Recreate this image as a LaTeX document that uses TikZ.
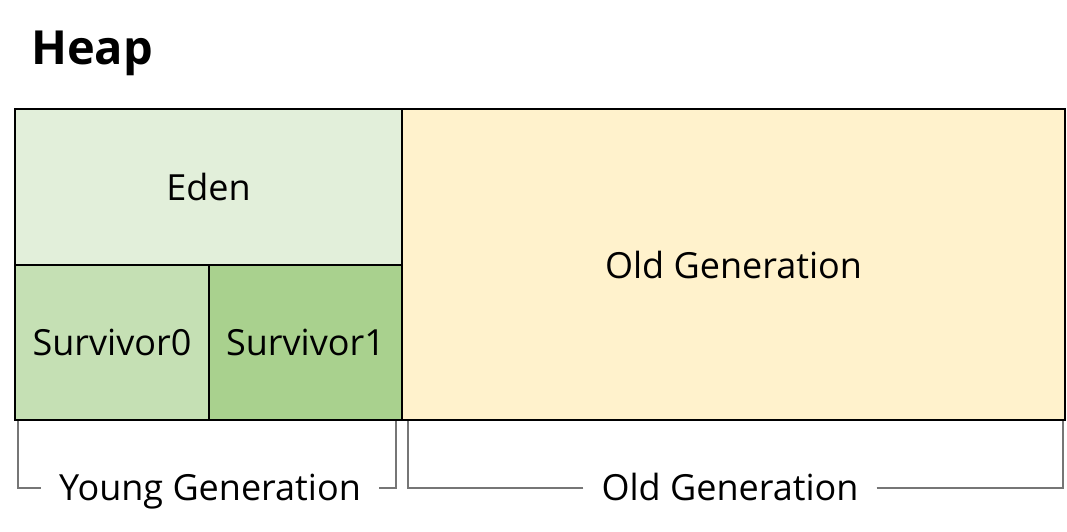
\documentclass[tikz,border=0pt]{standalone}
\usepackage{fontspec}
\setmainfont{Open Sans}
\usepackage{tikz}
\usetikzlibrary{positioning,calc}
\usepackage{xcolor}
\definecolor{edenfill}{HTML}{E2EFDA}
\definecolor{surv0fill}{HTML}{C5E0B4}
\definecolor{surv1fill}{HTML}{A9D18E}
\definecolor{oldfill}{HTML}{FFF2CC}
\definecolor{bracketgray}{HTML}{767676}

\begin{document}
\begin{tikzpicture}[
    x=1pt, y=-1pt,
    region/.style={draw, line width=2.1pt, rectangle, inner sep=0pt,
        font=\fontsize{36}{40}\selectfont},
    gen/.style={font=\fontsize{36}{40}\selectfont, anchor=base, inner xsep=18pt},
    bracket/.style={draw=bracketgray, line width=1.2pt},
]
\useasboundingbox (0,0) rectangle (1067,532);

\node[font=\bfseries\fontsize{47}{50}\selectfont, anchor=base west, inner sep=0pt] (heap) at (31,65) {Heap};

\node[region, fill=edenfill, minimum width=387pt, minimum height=156pt] (eden) at (208.5,187) {Eden};
\node[region, fill=surv0fill, minimum width=194pt, minimum height=155pt] (surv0) at (112,342.5) {Survivor0};
\node[region, fill=surv1fill, minimum width=193pt, minimum height=155pt] (surv1) at (305.5,342.5) {Survivor1};
\node[region, fill=oldfill, minimum width=663pt, minimum height=311pt] (old) at (733.5,264.5) {Old Generation};

% brackets under the heap
\coordinate (lev) at (0,488);
\coordinate (yl) at (18,421);
\coordinate (yr) at (396,421);
\coordinate (ol) at (408,421);
\coordinate (or) at (1063,421);

\node[gen] (young) at (210,500) {Young Generation};
\node[gen] (oldgen) at (730,500) {Old Generation};

\draw[bracket] (young.west |- lev) -| (yl);
\draw[bracket] (young.east |- lev) -| (yr);
\draw[bracket] (oldgen.west |- lev) -| (ol);
\draw[bracket] (oldgen.east |- lev) -| (or);

\end{tikzpicture}
\end{document}
